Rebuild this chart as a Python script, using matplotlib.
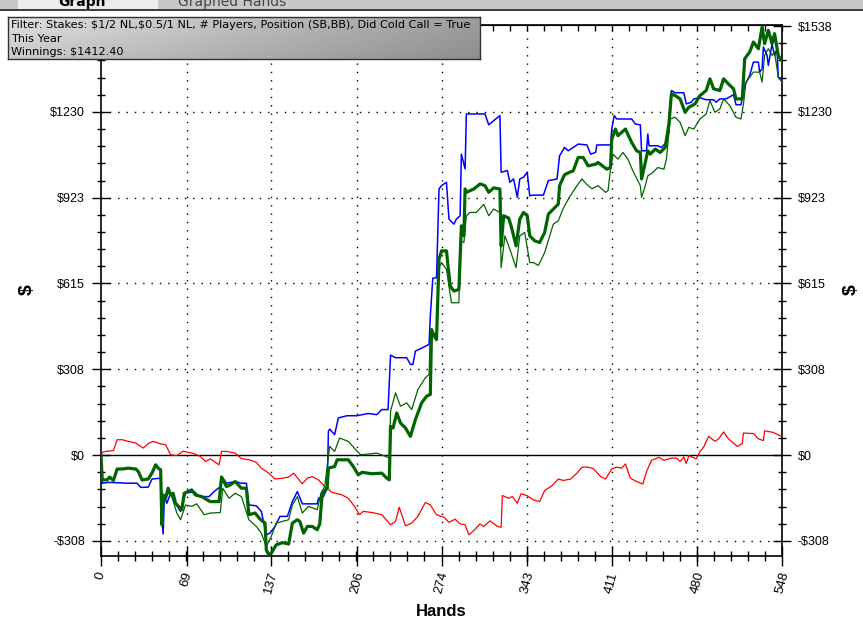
import numpy as np
import matplotlib
matplotlib.use('Agg')
import matplotlib.pyplot as plt
from matplotlib.patches import Rectangle

plt.rcParams['font.family'] = 'Liberation Sans'
plt.rcParams['text.parse_math'] = False

# Data: (hand, cumulative $)
net_won = [(0, 0), (1, -89), (5, -89), (7, -79), (10, -91), (13, -50), (17, -50), (22, -47), (28, -50), (30, -59),
           (33, -89), (38, -86), (41, -65), (44, -35), (46, -47), (48, -53), (49, -250), (50, -143), (52, -155),
           (54, -119), (56, -143), (58, -137), (60, -173), (65, -196), (67, -137), (73, -125), (76, -143), (81, -149),
           (88, -167), (95, -167), (97, -79), (101, -113), (104, -107), (108, -95), (113, -119), (117, -119),
           (119, -214), (124, -208), (128, -230), (132, -244), (133, -340), (135, -358), (137, -352), (141, -322),
           (146, -314), (151, -319), (154, -244), (158, -232), (160, -238), (163, -280), (166, -256), (170, -256),
           (174, -268), (176, -247), (178, -137), (182, -119), (183, -47), (188, -41), (190, -17), (199, -17),
           (203, -41), (207, -71), (210, -62), (218, -67), (226, -65), (230, -83), (232, -89), (233, 103), (235, 97),
           (238, 151), (241, 115), (245, 97), (249, 67), (253, 127), (258, 187), (262, 211), (265, 217), (266, 450),
           (269, 420), (270, 414), (272, 702), (274, 732), (278, 732), (281, 606), (284, 588), (288, 594), (290, 822),
           (292, 786), (293, 954), (294, 942), (300, 954), (305, 972), (309, 966), (312, 942), (316, 958), (321, 954),
           (322, 750), (324, 858), (328, 850), (330, 822), (334, 750), (337, 846), (340, 870), (343, 858), (345, 786),
           (349, 768), (353, 762), (357, 798), (360, 864), (364, 882), (368, 900), (369, 966), (373, 1005),
           (377, 1014), (380, 1019), (384, 1067), (388, 1067), (392, 1037), (398, 1043), (400, 1049), (407, 1025),
           (410, 1031), (411, 1133), (414, 1169), (416, 1145), (422, 1169), (427, 1121), (431, 1091), (434, 1085),
           (435, 990), (438, 1049), (440, 1091), (442, 1079), (446, 1097), (450, 1085), (454, 1103), (457, 1187),
           (459, 1295), (462, 1289), (466, 1277), (470, 1229), (473, 1247), (478, 1259), (482, 1289), (487, 1307),
           (490, 1349), (493, 1313), (498, 1307), (501, 1349), (505, 1330), (509, 1313), (511, 1277), (516, 1277),
           (518, 1421), (522, 1445), (525, 1481), (529, 1457), (532, 1535), (534, 1475), (537, 1523), (540, 1475),
           (542, 1511), (545, 1433), (548, 1412)]

allin_ev = [(0, 0), (1, -89), (5, -89), (7, -79), (10, -91), (13, -50), (17, -50), (22, -47), (28, -50), (30, -59),
            (33, -89), (38, -86), (41, -65), (44, -35), (46, -47), (48, -53), (49, -250), (50, -143), (52, -155),
            (54, -119), (57, -149), (61, -208), (64, -232), (68, -179), (73, -184), (77, -175), (83, -214),
            (88, -208), (96, -206), (98, -119), (103, -155), (108, -137), (113, -149), (119, -232), (125, -256),
            (129, -280), (133, -328), (137, -292), (141, -244), (146, -238), (151, -232), (154, -179), (158, -149),
            (162, -208), (167, -184), (174, -196), (177, -137), (180, -113), (184, 31), (188, 13), (192, 61),
            (199, 49), (205, 19), (209, 1), (218, 5), (222, 7), (229, -5), (232, -11), (233, 157), (237, 223),
            (241, 175), (246, 187), (250, 163), (255, 235), (261, 277), (264, 289), (265, 432), (270, 420),
            (272, 672), (274, 690), (278, 666), (282, 546), (288, 546), (289, 768), (292, 762), (294, 858),
            (297, 870), (302, 870), (308, 899), (312, 858), (316, 882), (321, 870), (322, 672), (325, 786),
            (329, 738), (334, 672), (337, 786), (341, 798), (345, 690), (348, 690), (352, 680), (357, 726),
            (364, 828), (368, 840), (372, 885), (377, 925), (383, 966), (387, 990), (391, 970), (395, 955),
            (400, 966), (406, 942), (408, 948), (410, 1025), (412, 1079), (416, 1061), (420, 1085), (424, 1061),
            (428, 1019), (434, 966), (435, 924), (438, 966), (440, 1001), (444, 1013), (448, 1031), (453, 1025),
            (455, 1061), (458, 1205), (462, 1211), (466, 1193), (470, 1145), (473, 1175), (477, 1169), (482, 1205),
            (487, 1223), (490, 1271), (494, 1229), (498, 1241), (501, 1277), (506, 1253), (511, 1211), (515, 1205),
            (517, 1259), (519, 1337), (525, 1373), (530, 1373), (532, 1337), (534, 1433), (537, 1457), (540, 1433),
            (542, 1445), (545, 1355), (548, 1337)]

showdown = [(0, 0), (1, -101), (6, -98), (22, -101), (29, -101), (32, -116), (38, -115), (41, -86), (48, -83),
            (49, -232), (50, -283), (51, -149), (53, -173), (56, -137), (60, -173), (64, -202), (68, -137),
            (75, -131), (79, -149), (87, -149), (91, -131), (96, -113), (97, -77), (101, -101), (108, -95),
            (113, -101), (117, -101), (119, -179), (125, -182), (129, -202), (133, -286), (136, -280), (140, -256),
            (144, -220), (150, -220), (154, -167), (158, -131), (162, -175), (174, -175), (175, -155), (179, -149),
            (182, -120), (183, 85), (184, 93), (188, 73), (191, 133), (198, 141), (206, 141), (215, 149), (222, 145),
            (226, 163), (231, 163), (233, 358), (237, 349), (246, 349), (249, 325), (251, 325), (253, 373),
            (257, 381), (264, 397), (265, 498), (267, 634), (270, 636), (272, 954), (274, 966), (278, 978),
            (280, 846), (284, 828), (286, 846), (289, 858), (290, 1079), (293, 1026), (294, 1223), (309, 1223),
            (312, 1184), (316, 1199), (321, 1217), (322, 1014), (327, 1020), (329, 978), (332, 990), (335, 924),
            (337, 990), (340, 996), (343, 1014), (345, 930), (348, 932), (356, 932), (360, 984), (367, 990),
            (369, 1073), (373, 1103), (376, 1091), (384, 1115), (391, 1112), (394, 1079), (398, 1085), (399, 1112),
            (410, 1112), (411, 1169), (413, 1217), (415, 1205), (427, 1205), (430, 1187), (434, 1184), (435, 1091),
            (439, 1091), (440, 1151), (441, 1109), (448, 1109), (451, 1103), (455, 1121), (457, 1157), (459, 1307),
            (462, 1299), (469, 1299), (471, 1259), (475, 1265), (477, 1277), (482, 1281), (487, 1274), (493, 1274),
            (495, 1265), (498, 1277), (503, 1277), (507, 1287), (509, 1292), (511, 1256), (515, 1256), (518, 1325),
            (522, 1361), (525, 1409), (529, 1409), (530, 1373), (532, 1385), (533, 1463), (536, 1433), (537, 1397),
            (540, 1474), (542, 1433), (544, 1457), (545, 1355), (548, 1349)]

non_showdown = [(0, 0), (1, 10), (4, 13), (10, 16), (13, 55), (17, 55), (22, 49), (28, 43), (34, 25), (38, 41),
                (42, 49), (48, 40), (52, 37), (56, 1), (61, -2), (66, 14), (75, 5), (80, -5), (84, -23), (88, -14),
                (95, -35), (97, 13), (101, 13), (108, 7), (113, -13), (119, -17), (125, -26), (129, -47), (135, -65),
                (140, -86), (146, -83), (151, -79), (155, -65), (162, -103), (166, -83), (170, -77), (175, -89),
                (180, -113), (186, -134), (194, -143), (199, -155), (204, -184), (208, -214), (211, -202),
                (218, -206), (226, -214), (233, -250), (237, -238), (240, -187), (245, -254), (250, -244),
                (255, -220), (261, -170), (265, -179), (270, -214), (276, -223), (280, -241), (285, -230),
                (289, -247), (293, -250), (296, -286), (300, -271), (305, -247), (308, -256), (313, -236),
                (319, -256), (322, -259), (323, -145), (328, -155), (331, -149), (335, -173), (338, -139),
                (343, -146), (348, -161), (353, -167), (357, -127), (363, -110), (368, -86), (372, -91), (378, -86),
                (383, -65), (387, -44), (391, -43), (396, -48), (402, -77), (406, -86), (411, -50), (415, -43),
                (419, -47), (422, -32), (426, -83), (431, -95), (436, -104), (439, -59), (443, -19), (449, -8),
                (453, -19), (459, -11), (463, -11), (466, -23), (469, -7), (471, -31), (473, -2), (479, -14),
                (482, 13), (485, 29), (489, 67), (494, 49), (497, 58), (501, 83), (505, 58), (512, 31), (516, 41),
                (517, 79), (525, 77), (529, 58), (533, 52), (534, 87), (541, 81), (546, 70), (548, 68)]

x_ticks = [0, 69, 137, 206, 274, 343, 411, 480, 548]
y_ticks = [-307.6, 0, 307.6, 615.2, 922.8, 1230.4, 1538]
y_labels = ['-$308', '$0', '$308', '$615', '$923', '$1230', '$1538']
header_lines = ['Filter: Stakes: $1/2 NL,$0.5/1 NL, # Players, Position (SB,BB), Did Cold Call = True',
                'This Year',
                'Winnings: $1412.40']

W, H = 863, 624
fig = plt.figure(figsize=(W / 100, H / 100), dpi=100)
fig.patch.set_facecolor('white')

ax = fig.add_axes([101 / W, 1 - 556 / H, 681 / W, 531 / H])
ax.set_xlim(0, 548)
ax.set_ylim(-362, 1542)

# series
for data, color, lw in [(non_showdown, '#ff0000', 0.9),
                        (showdown, '#0000ff', 1.1),
                        (allin_ev, '#006400', 0.9),
                        (net_won, '#006400', 2.3)]:
    xs, ys = zip(*data)
    ax.plot(xs, ys, color=color, lw=lw, zorder=3)

ax.axhline(0, color='black', lw=1.0, zorder=2)

# dotted grid
for x in x_ticks[1:-1]:
    ax.axvline(x, color='black', lw=1.0, ls=(0, (1, 5)), zorder=1)
for y in y_ticks:
    if y != 0 and y != 1538:
        ax.axhline(y, color='black', lw=1.0, ls=(0, (1, 5)), zorder=1)

ax.set_xticks(x_ticks)
ax.set_xticks(np.arange(0, 548.1, 548 / 40), minor=True)
ax.set_yticks(y_ticks)
ax.set_yticklabels(y_labels)
ax.set_yticks(np.arange(-307.6, 1540, 61.52), minor=True)
ax.set_xticklabels([str(t) for t in x_ticks], rotation=75, ha='center', va='top', fontsize=9.5)

ax.tick_params(axis='y', which='major', direction='inout', length=13, width=1, left=True, right=True,
               labelleft=True, labelright=True, pad=5, labelsize=9)
ax.tick_params(axis='y', which='minor', direction='inout', length=6, width=1, left=True, right=True)
ax.tick_params(axis='x', which='major', direction='inout', length=15, width=1, pad=3)
ax.tick_params(axis='x', which='minor', direction='inout', length=7, width=1)
for s in ax.spines.values():
    s.set_linewidth(1.2)
# the left $1538 label sits under the filter box in the original
ax.yaxis.get_major_ticks()[-1].label1.set_visible(False)

top = ax.secondary_xaxis('top')
top.set_xticks(np.arange(0, 548.1, 548 / 40))
top.tick_params(direction='in', length=4, width=1, labeltop=False)

# axis titles
fig.text(441 / W, 1 - 612 / H, 'Hands', ha='center', va='center', fontsize=12, fontweight='bold')
fig.text(27 / W, 1 - 290 / H, '$', ha='center', va='center', fontsize=14, fontweight='bold', rotation=90)
fig.text(851 / W, 1 - 290 / H, '$', ha='center', va='center', fontsize=14, fontweight='bold', rotation=90)

# tab strip at the very top
fig.patches.append(Rectangle((0, 1 - 9 / H), 1, 9 / H, transform=fig.transFigure,
                             facecolor='#c8c8c8', edgecolor='none', zorder=0))
fig.patches.append(Rectangle((18 / W, 1 - 9 / H), 140 / W, 9 / H, transform=fig.transFigure,
                             facecolor='#ececec', edgecolor='none', zorder=0))
fig.patches.append(Rectangle((0, 1 - 11 / H), 1, 2 / H, transform=fig.transFigure,
                             facecolor='#404040', edgecolor='none', zorder=0))
fig.text(82 / W, 1 - 2 / H, 'Graph', ha='center', va='center', fontsize=10, fontweight='bold',
         family='DejaVu Sans')
fig.text(232 / W, 1 - 2 / H, 'Graphed Hands', ha='center', va='center', fontsize=10, color='#444444',
         family='DejaVu Sans')

# filter box with gradient
box = fig.add_axes([8 / W, 1 - 59 / H, 472 / W, 42 / H])
gx = np.linspace(0.88, 0.62, 200)
gy = np.linspace(1.0, 0.9, 30)[:, None]
grad = gx[None, :] * gy
box.imshow(grad, cmap='gray', vmin=0, vmax=1, aspect='auto', extent=[0, 1, 0, 1])
box.set_xticks([])
box.set_yticks([])
for s in box.spines.values():
    s.set_color('#303030')
    s.set_linewidth(1.0)
for i, line in enumerate(header_lines):
    box.text(3 / 472, 1 - (8 + i * 13.5) / 42, line, transform=box.transAxes, ha='left', va='center',
             fontsize=8.1, family='DejaVu Sans')

plt.savefig('out.png', dpi=100)
plt.close()
